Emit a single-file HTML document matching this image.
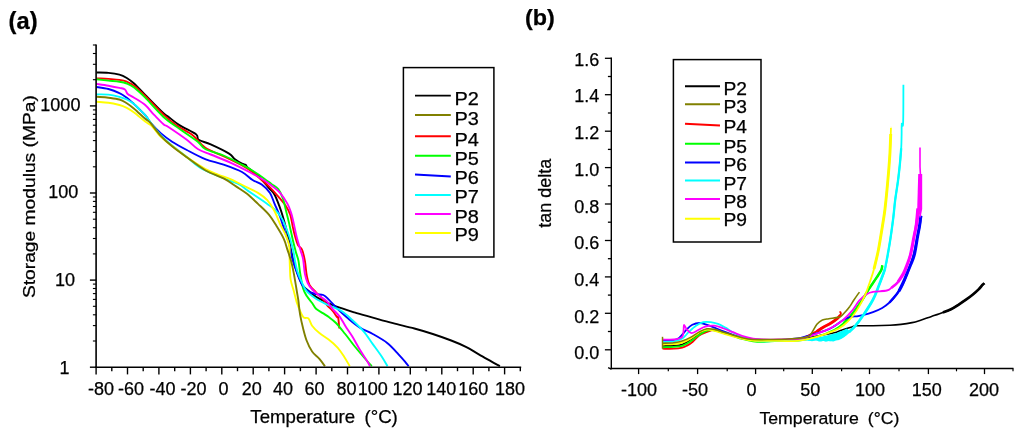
<!DOCTYPE html>
<html><head><meta charset="utf-8"><title>DMA curves</title>
<style>html,body{margin:0;padding:0;background:#fff;}body{width:1024px;height:435px;overflow:hidden;}svg{display:block;will-change:transform;}text{font-family:"Liberation Sans",sans-serif;fill:#000;stroke:#000;stroke-width:0.25px;stroke-linejoin:round;}</style>
</head><body>
<svg width="1024" height="435" viewBox="0 0 1024 435">
<rect x="0" y="0" width="1024" height="435" fill="#ffffff"/>
<text x="8.6" y="29.0" font-size="23" font-weight="bold" textLength="29" lengthAdjust="spacingAndGlyphs">(a)</text>
<text x="525.0" y="25.2" font-size="22.5" font-weight="bold" textLength="29.8" lengthAdjust="spacingAndGlyphs">(b)</text>
<g id="curvesA">
<path d="M96.5,72.5C98.5,72.6 104.6,72.5 108.4,72.9C112.2,73.3 116.3,73.9 119.4,74.7C122.5,75.5 124.3,76.5 126.8,78.0C129.2,79.5 131.0,80.7 134.1,83.5C137.2,86.3 140.3,89.9 145.2,94.9C150.1,99.9 159.6,109.7 163.5,113.3C167.4,116.9 165.8,114.8 168.4,116.8C171.1,118.8 174.8,122.2 179.4,125.1C184.0,128.0 192.8,131.9 196.0,134.3C199.2,136.8 196.2,138.1 198.7,139.8C201.1,141.5 205.6,142.1 210.7,144.4C215.8,146.7 225.1,151.2 229.1,153.6C233.1,156.0 232.4,157.4 234.6,159.1C236.8,160.8 240.2,162.8 242.0,163.7C243.8,164.6 244.7,164.1 245.6,164.7C246.5,165.3 245.8,165.8 247.5,167.4C249.2,169.0 253.4,171.7 256.0,174.0C258.6,176.3 260.8,178.6 263.0,181.0C265.2,183.4 267.6,186.3 269.5,188.6C271.4,190.9 273.0,191.8 274.6,194.7C276.2,197.5 277.8,202.0 279.2,205.7C280.6,209.4 281.8,213.1 282.9,216.8C284.0,220.5 285.0,224.1 286.0,228.0C287.0,231.9 288.2,236.3 289.0,240.0C289.8,243.7 290.2,246.5 291.0,250.0C291.8,253.5 292.5,257.3 293.5,261.0C294.5,264.7 295.6,268.1 297.0,272.0C298.4,275.9 300.6,281.6 302.2,284.5C303.8,287.4 304.5,287.4 306.8,289.5C309.1,291.6 313.0,294.9 316.0,296.9C319.0,298.9 321.7,299.9 325.0,301.5C328.3,303.1 331.1,304.6 336.0,306.4C340.9,308.2 348.3,310.5 354.4,312.4C360.5,314.3 366.4,315.8 372.8,317.6C379.2,319.4 386.1,321.4 393.0,323.2C399.9,325.0 407.8,326.7 414.4,328.5C421.0,330.3 426.7,332.0 432.8,334.0C438.9,336.0 445.7,338.4 451.2,340.5C456.7,342.6 461.3,344.6 465.9,346.9C470.5,349.2 474.5,351.9 478.8,354.3C483.1,356.8 488.1,359.6 491.6,361.6C495.1,363.6 498.5,365.4 499.9,366.2" fill="none" stroke="#000000" stroke-width="1.9" stroke-linejoin="round" stroke-linecap="butt" />
<path d="M96.5,78.4C98.5,78.5 104.6,78.7 108.4,78.9C112.2,79.2 116.3,79.4 119.4,79.9C122.5,80.4 124.3,80.7 126.8,81.7C129.2,82.7 131.0,83.3 134.1,85.7C137.2,88.1 140.3,91.1 145.2,95.9C150.1,100.7 158.3,109.7 163.5,114.6C168.7,119.5 171.5,121.8 176.4,125.3C181.3,128.8 188.2,131.7 193.0,135.4C197.8,139.1 199.8,144.0 205.0,147.5C210.2,151.0 217.7,153.4 224.0,156.5C230.3,159.6 238.2,163.3 243.0,166.0C247.8,168.7 249.9,170.2 253.0,172.5C256.1,174.8 258.7,177.4 261.7,180.0C264.7,182.6 268.1,185.5 270.9,188.3C273.7,191.1 275.8,193.7 278.3,196.6C280.8,199.5 283.7,202.6 285.7,205.7C287.7,208.8 289.1,211.2 290.3,214.9C291.5,218.6 292.2,224.4 293.0,227.8C293.8,231.2 294.0,232.3 294.8,235.2C295.6,238.1 296.8,242.5 298.0,245.0C299.2,247.5 301.1,247.3 302.2,250.0C303.3,252.7 304.1,256.7 304.9,261.0C305.7,265.3 306.0,271.7 306.8,275.7C307.6,279.7 308.0,282.1 309.5,284.9C311.0,287.7 313.7,289.9 316.0,292.3C318.3,294.8 321.5,297.5 323.3,299.6C325.1,301.8 325.5,303.4 327.0,305.2C328.5,307.0 330.8,308.7 332.5,310.7C334.2,312.7 336.2,316.0 337.1,317.1C338.1,318.2 337.8,315.6 338.2,317.5C338.6,319.4 339.1,326.7 339.3,328.5" fill="none" stroke="#ff0000" stroke-width="1.9" stroke-linejoin="round" stroke-linecap="butt" />
<path d="M96.5,79.3C98.5,79.5 104.6,80.2 108.4,80.6C112.2,81.0 116.3,81.2 119.4,81.7C122.5,82.2 124.3,82.5 126.8,83.5C129.2,84.5 131.0,85.2 134.1,87.6C137.2,90.0 140.3,92.8 145.2,97.7C150.1,102.6 157.8,111.8 163.5,117.0C169.2,122.2 173.7,124.7 179.4,128.8C185.1,132.9 193.5,138.3 197.8,141.7C202.1,145.1 200.9,146.7 205.2,149.0C209.5,151.3 217.5,152.9 223.6,155.5C229.7,158.1 237.1,162.1 242.0,164.7C246.9,167.3 249.3,168.7 253.0,171.0C256.7,173.3 260.9,176.2 264.0,178.4C267.1,180.6 269.0,182.2 271.4,184.0C273.8,185.8 276.4,186.8 278.3,189.2C280.2,191.6 281.7,195.0 282.9,198.4C284.1,201.8 284.6,205.1 285.7,209.4C286.8,213.7 288.1,218.9 289.3,224.1C290.5,229.3 291.9,236.1 293.0,240.7C294.1,245.3 294.9,248.3 295.8,251.7C296.7,255.1 297.8,257.3 298.5,261.0C299.2,264.7 299.5,269.3 300.3,273.9C301.1,278.5 302.0,284.9 303.1,288.6C304.2,292.3 305.3,293.6 306.8,296.0C308.3,298.4 310.8,301.2 312.3,303.3C313.8,305.4 314.2,307.1 316.0,308.8C317.8,310.5 321.2,312.0 323.3,313.4C325.4,314.8 326.7,315.5 328.8,317.1C330.9,318.7 333.3,320.2 336.0,323.0C338.7,325.8 342.1,330.2 345.2,334.0C348.3,337.8 351.3,342.2 354.4,346.0C357.5,349.8 360.7,353.6 363.6,357.0C366.5,360.4 370.4,364.7 371.8,366.2" fill="none" stroke="#00ff00" stroke-width="1.9" stroke-linejoin="round" stroke-linecap="butt" />
<path d="M96.5,87.0C98.5,87.3 104.6,88.0 108.4,89.0C112.2,90.0 116.3,91.6 119.4,93.1C122.5,94.5 124.3,95.9 126.8,97.7C129.2,99.5 131.0,101.2 134.1,104.1C137.2,107.0 142.2,111.8 145.2,115.2C148.1,118.6 149.2,121.2 151.8,124.2C154.4,127.2 157.6,130.5 161.0,133.4C164.4,136.3 167.8,138.9 172.1,141.7C176.4,144.5 181.3,147.1 186.8,150.0C192.3,152.9 199.1,156.7 205.2,159.1C211.3,161.5 217.5,162.5 223.6,164.7C229.7,166.8 237.2,169.4 242.0,172.0C246.8,174.6 249.3,177.9 252.6,180.0C255.9,182.1 258.8,182.4 261.7,184.6C264.6,186.8 267.9,189.7 270.0,192.9C272.1,196.1 272.9,199.9 274.6,203.9C276.3,207.9 278.4,212.1 280.1,216.8C281.8,221.5 283.5,227.4 285.0,232.0C286.5,236.6 288.3,240.8 289.3,244.4C290.3,248.0 290.6,250.8 291.2,253.6C291.8,256.4 292.1,257.9 293.0,261.0C293.9,264.1 295.2,268.0 296.7,272.0C298.2,276.0 300.2,281.7 302.2,284.9C304.2,288.1 306.3,289.9 308.6,291.4C310.9,292.9 313.6,293.5 316.0,294.1C318.4,294.7 321.2,294.1 323.3,295.0C325.4,295.9 326.4,297.2 328.8,299.6C331.2,302.0 334.8,306.2 337.8,309.2C340.8,312.2 343.3,314.4 347.0,317.5C350.7,320.6 355.6,324.9 359.9,327.6C364.2,330.4 368.2,331.4 372.8,334.0C377.4,336.6 383.2,339.8 387.5,343.2C391.8,346.6 395.6,351.2 398.5,354.3C401.4,357.4 403.3,359.6 405.0,361.6C406.7,363.6 408.0,365.4 408.6,366.2" fill="none" stroke="#0000ff" stroke-width="1.9" stroke-linejoin="round" stroke-linecap="butt" />
<path d="M96.5,94.4C98.5,94.4 104.6,94.2 108.4,94.6C112.2,95.0 116.3,96.0 119.4,96.8C122.5,97.6 124.3,98.3 126.8,99.5C129.2,100.7 132.0,102.4 134.1,104.1C136.2,105.8 137.8,107.8 139.6,109.6C141.4,111.4 142.7,112.2 145.2,115.2C147.7,118.2 151.3,123.7 154.4,127.5C157.5,131.3 160.6,135.0 163.5,138.0C166.4,141.0 168.2,142.3 172.1,145.5C176.0,148.7 182.2,153.3 186.8,157.0C191.4,160.7 194.5,164.2 199.7,167.4C204.9,170.6 212.8,173.7 218.0,176.0C223.2,178.3 227.4,179.6 231.0,181.0C234.6,182.4 237.0,183.1 239.7,184.6C242.4,186.1 243.9,187.9 247.0,190.1C250.1,192.2 254.6,195.2 258.0,197.5C261.4,199.8 264.5,201.9 267.3,203.9C270.1,205.9 272.2,207.0 274.6,209.4C277.1,211.8 279.9,214.9 282.0,218.6C284.1,222.3 286.0,227.5 287.5,231.5C289.0,235.5 290.1,238.8 291.2,242.5C292.3,246.2 293.3,250.5 293.9,253.6C294.5,256.7 294.4,257.9 295.0,261.0C295.6,264.1 296.4,268.3 297.6,272.0C298.8,275.7 300.7,279.9 302.2,283.1C303.7,286.3 304.5,288.8 306.8,291.4C309.1,294.0 312.7,296.5 316.0,298.7C319.3,300.9 322.6,302.4 326.8,304.5C331.1,306.6 337.2,308.4 341.5,311.0C345.8,313.6 348.8,316.8 352.5,320.2C356.2,323.6 360.2,327.3 363.6,331.3C367.0,335.3 369.7,339.8 372.8,344.1C375.9,348.4 379.6,353.3 382.0,357.0C384.4,360.7 386.6,364.7 387.5,366.2" fill="none" stroke="#00ffff" stroke-width="1.9" stroke-linejoin="round" stroke-linecap="butt" />
<path d="M96.5,83.9C98.5,84.2 104.6,85.0 108.4,85.7C112.2,86.4 116.7,87.3 119.4,87.9C122.2,88.5 123.5,88.4 124.9,89.4C126.3,90.4 126.2,92.6 127.7,94.0C129.2,95.4 131.2,95.9 134.1,97.7C137.0,99.5 141.8,102.1 145.2,105.0C148.6,107.9 151.3,112.0 154.4,115.2C157.5,118.4 161.2,122.3 163.5,124.3C165.8,126.3 164.5,124.4 168.4,127.0C172.3,129.6 181.9,136.1 186.8,139.8C191.7,143.5 193.8,146.6 197.8,149.0C201.8,151.4 205.2,152.2 210.7,154.5C216.2,156.8 224.5,159.9 230.9,162.8C237.3,165.7 243.8,169.1 249.3,172.0C254.8,174.9 260.2,178.0 264.0,180.3C267.8,182.6 269.3,183.9 272.0,186.0C274.7,188.1 277.5,189.9 280.1,192.9C282.7,195.9 285.6,200.5 287.5,203.9C289.4,207.3 290.1,209.7 291.2,213.1C292.3,216.5 293.0,220.1 293.9,224.1C294.8,228.1 295.6,232.7 296.7,237.0C297.8,241.3 299.3,246.2 300.4,249.9C301.5,253.6 302.4,255.2 303.1,259.2C303.9,263.2 304.1,269.9 304.9,273.9C305.7,277.9 306.5,280.5 307.7,283.1C308.9,285.7 310.3,287.4 312.3,289.5C314.3,291.6 317.2,294.0 319.7,296.0C322.1,298.0 324.9,299.4 327.0,301.5C329.1,303.6 330.4,306.3 332.5,308.8C334.6,311.3 337.6,313.8 339.7,316.6C341.8,319.4 343.1,322.3 345.2,325.7C347.3,329.1 350.1,332.8 352.5,336.8C354.9,340.8 357.6,345.9 359.9,349.7C362.2,353.5 364.6,357.1 366.3,359.8C368.0,362.6 369.4,365.1 370.0,366.2" fill="none" stroke="#ff00ff" stroke-width="1.9" stroke-linejoin="round" stroke-linecap="butt" />
<path d="M96.5,101.7C98.5,101.9 104.6,102.2 108.4,102.7C112.2,103.2 116.3,104.2 119.4,105.0C122.5,105.8 124.3,106.6 126.8,107.8C129.2,109.0 131.0,110.1 134.1,112.4C137.2,114.7 142.2,119.3 145.2,121.6C148.1,123.9 149.2,123.4 151.8,126.0C154.4,128.6 156.7,133.0 161.0,137.0C165.3,141.0 172.8,146.5 177.6,150.2C182.4,153.9 185.4,156.3 190.0,159.4C194.6,162.5 200.3,166.3 205.0,168.8C209.7,171.3 213.7,172.8 218.0,174.6C222.3,176.4 226.2,177.3 231.0,179.4C235.8,181.5 242.5,185.2 247.0,187.4C251.5,189.7 254.6,190.8 258.0,192.9C261.4,195.0 264.5,197.1 267.3,200.2C270.1,203.3 272.5,207.3 274.6,211.3C276.7,215.3 278.2,220.1 280.1,224.1C282.0,228.1 284.2,231.5 285.7,235.2C287.2,238.9 288.7,242.8 289.3,246.2C289.9,249.6 289.4,252.1 289.5,255.5C289.6,258.9 289.7,262.6 289.9,266.6C290.1,270.6 290.0,275.5 290.6,279.4C291.2,283.3 292.4,286.1 293.5,290.0C294.6,293.9 295.9,299.5 297.0,303.0C298.1,306.5 299.0,308.6 300.1,311.0C301.2,313.4 302.4,316.3 303.8,317.5C305.2,318.7 307.0,317.0 308.4,318.4C309.8,319.8 310.3,323.2 312.1,325.7C313.9,328.1 316.6,330.8 319.4,333.1C322.1,335.4 325.5,337.1 328.6,339.5C331.7,341.9 335.2,344.9 337.8,347.8C340.4,350.7 342.3,353.9 344.3,357.0C346.3,360.1 348.9,364.7 349.8,366.2" fill="none" stroke="#ffff00" stroke-width="1.9" stroke-linejoin="round" stroke-linecap="butt" />
<path d="M96.5,96.8C98.5,97.0 104.6,97.2 108.4,97.7C112.2,98.2 116.3,98.6 119.4,99.5C122.5,100.4 124.3,101.7 126.8,103.2C129.2,104.7 131.0,106.1 134.1,108.7C137.2,111.3 142.5,116.5 145.2,118.8C147.8,121.1 147.4,119.5 150.0,122.4C152.6,125.3 157.3,132.1 161.0,136.1C164.7,140.1 167.8,142.8 172.1,146.3C176.4,149.8 181.3,153.3 186.8,157.3C192.3,161.3 199.1,166.7 205.2,170.2C211.3,173.7 218.5,175.7 223.6,178.4C228.7,181.1 232.1,183.8 236.0,186.4C239.9,189.0 243.3,190.9 247.0,193.8C250.7,196.7 254.3,200.4 258.0,203.9C261.7,207.4 266.0,211.2 269.1,214.9C272.2,218.6 274.1,222.0 276.5,226.0C278.9,230.0 282.0,234.9 283.8,238.9C285.6,242.9 286.3,246.2 287.5,249.9C288.7,253.6 290.0,257.0 291.1,261.0C292.2,265.0 293.0,269.0 293.9,273.9C294.8,278.8 296.0,286.1 296.7,290.5C297.4,294.9 297.7,296.0 298.3,300.0C298.9,304.0 299.3,310.1 300.1,314.7C300.9,319.3 301.8,323.3 302.9,327.6C304.0,331.9 305.1,336.5 306.6,340.5C308.1,344.5 310.0,348.4 312.1,351.5C314.2,354.6 317.3,356.4 319.4,358.9C321.5,361.3 324.0,365.0 324.9,366.2" fill="none" stroke="#808000" stroke-width="1.9" stroke-linejoin="round" stroke-linecap="butt" />
</g>
<g id="axesA" stroke="#000" stroke-width="1.6" fill="none">
<line x1="96.1" y1="44.5" x2="96.1" y2="368.0"/>
<line x1="95.3" y1="367.2" x2="521.2" y2="367.2"/>
<line x1="96.1" y1="367.2" x2="96.1" y2="374.4" stroke-width="1.4"/>
<line x1="111.8" y1="367.2" x2="111.8" y2="371.2" stroke-width="1.4"/>
<line x1="127.5" y1="367.2" x2="127.5" y2="374.4" stroke-width="1.4"/>
<line x1="143.2" y1="367.2" x2="143.2" y2="371.2" stroke-width="1.4"/>
<line x1="158.9" y1="367.2" x2="158.9" y2="374.4" stroke-width="1.4"/>
<line x1="174.7" y1="367.2" x2="174.7" y2="371.2" stroke-width="1.4"/>
<line x1="190.4" y1="367.2" x2="190.4" y2="374.4" stroke-width="1.4"/>
<line x1="206.1" y1="367.2" x2="206.1" y2="371.2" stroke-width="1.4"/>
<line x1="221.8" y1="367.2" x2="221.8" y2="374.4" stroke-width="1.4"/>
<line x1="237.5" y1="367.2" x2="237.5" y2="371.2" stroke-width="1.4"/>
<line x1="253.2" y1="367.2" x2="253.2" y2="374.4" stroke-width="1.4"/>
<line x1="268.9" y1="367.2" x2="268.9" y2="371.2" stroke-width="1.4"/>
<line x1="284.6" y1="367.2" x2="284.6" y2="374.4" stroke-width="1.4"/>
<line x1="300.4" y1="367.2" x2="300.4" y2="371.2" stroke-width="1.4"/>
<line x1="316.1" y1="367.2" x2="316.1" y2="374.4" stroke-width="1.4"/>
<line x1="331.8" y1="367.2" x2="331.8" y2="371.2" stroke-width="1.4"/>
<line x1="347.5" y1="367.2" x2="347.5" y2="374.4" stroke-width="1.4"/>
<line x1="363.2" y1="367.2" x2="363.2" y2="371.2" stroke-width="1.4"/>
<line x1="378.9" y1="367.2" x2="378.9" y2="374.4" stroke-width="1.4"/>
<line x1="394.6" y1="367.2" x2="394.6" y2="371.2" stroke-width="1.4"/>
<line x1="410.3" y1="367.2" x2="410.3" y2="374.4" stroke-width="1.4"/>
<line x1="426.1" y1="367.2" x2="426.1" y2="371.2" stroke-width="1.4"/>
<line x1="441.8" y1="367.2" x2="441.8" y2="374.4" stroke-width="1.4"/>
<line x1="457.5" y1="367.2" x2="457.5" y2="371.2" stroke-width="1.4"/>
<line x1="473.2" y1="367.2" x2="473.2" y2="374.4" stroke-width="1.4"/>
<line x1="488.9" y1="367.2" x2="488.9" y2="371.2" stroke-width="1.4"/>
<line x1="504.6" y1="367.2" x2="504.6" y2="374.4" stroke-width="1.4"/>
<line x1="520.3" y1="367.2" x2="520.3" y2="371.2" stroke-width="1.4"/>
<line x1="89.89999999999999" y1="367.2" x2="96.1" y2="367.2" stroke-width="1.4"/>
<line x1="92.89999999999999" y1="341.0" x2="96.1" y2="341.0" stroke-width="1.1"/>
<line x1="92.89999999999999" y1="325.6" x2="96.1" y2="325.6" stroke-width="1.1"/>
<line x1="92.89999999999999" y1="314.8" x2="96.1" y2="314.8" stroke-width="1.1"/>
<line x1="92.89999999999999" y1="306.3" x2="96.1" y2="306.3" stroke-width="1.1"/>
<line x1="92.89999999999999" y1="299.4" x2="96.1" y2="299.4" stroke-width="1.1"/>
<line x1="92.89999999999999" y1="293.6" x2="96.1" y2="293.6" stroke-width="1.1"/>
<line x1="92.89999999999999" y1="288.5" x2="96.1" y2="288.5" stroke-width="1.1"/>
<line x1="92.89999999999999" y1="284.1" x2="96.1" y2="284.1" stroke-width="1.1"/>
<line x1="89.89999999999999" y1="280.1" x2="96.1" y2="280.1" stroke-width="1.4"/>
<line x1="92.89999999999999" y1="253.9" x2="96.1" y2="253.9" stroke-width="1.1"/>
<line x1="92.89999999999999" y1="238.5" x2="96.1" y2="238.5" stroke-width="1.1"/>
<line x1="92.89999999999999" y1="227.7" x2="96.1" y2="227.7" stroke-width="1.1"/>
<line x1="92.89999999999999" y1="219.2" x2="96.1" y2="219.2" stroke-width="1.1"/>
<line x1="92.89999999999999" y1="212.3" x2="96.1" y2="212.3" stroke-width="1.1"/>
<line x1="92.89999999999999" y1="206.5" x2="96.1" y2="206.5" stroke-width="1.1"/>
<line x1="92.89999999999999" y1="201.4" x2="96.1" y2="201.4" stroke-width="1.1"/>
<line x1="92.89999999999999" y1="197.0" x2="96.1" y2="197.0" stroke-width="1.1"/>
<line x1="89.89999999999999" y1="193.0" x2="96.1" y2="193.0" stroke-width="1.4"/>
<line x1="92.89999999999999" y1="166.8" x2="96.1" y2="166.8" stroke-width="1.1"/>
<line x1="92.89999999999999" y1="151.4" x2="96.1" y2="151.4" stroke-width="1.1"/>
<line x1="92.89999999999999" y1="140.6" x2="96.1" y2="140.6" stroke-width="1.1"/>
<line x1="92.89999999999999" y1="132.1" x2="96.1" y2="132.1" stroke-width="1.1"/>
<line x1="92.89999999999999" y1="125.2" x2="96.1" y2="125.2" stroke-width="1.1"/>
<line x1="92.89999999999999" y1="119.4" x2="96.1" y2="119.4" stroke-width="1.1"/>
<line x1="92.89999999999999" y1="114.3" x2="96.1" y2="114.3" stroke-width="1.1"/>
<line x1="92.89999999999999" y1="109.9" x2="96.1" y2="109.9" stroke-width="1.1"/>
<line x1="89.89999999999999" y1="105.9" x2="96.1" y2="105.9" stroke-width="1.4"/>
<line x1="92.89999999999999" y1="79.7" x2="96.1" y2="79.7" stroke-width="1.1"/>
<line x1="92.89999999999999" y1="64.3" x2="96.1" y2="64.3" stroke-width="1.1"/>
<line x1="92.89999999999999" y1="53.5" x2="96.1" y2="53.5" stroke-width="1.1"/>
<line x1="92.89999999999999" y1="45.0" x2="96.1" y2="45.0" stroke-width="1.1"/>
</g>
<g id="labelsA" font-size="18">
<text x="101" y="395.4" text-anchor="middle">-80</text>
<text x="131.1" y="395.4" text-anchor="middle">-60</text>
<text x="162.5" y="395.4" text-anchor="middle">-40</text>
<text x="193.5" y="395.4" text-anchor="middle">-20</text>
<text x="223.4" y="395.4" text-anchor="middle">0</text>
<text x="251.7" y="395.4" text-anchor="middle">20</text>
<text x="283" y="395.4" text-anchor="middle">40</text>
<text x="314.6" y="395.4" text-anchor="middle">60</text>
<text x="346.6" y="395.4" text-anchor="middle">80</text>
<text x="372.7" y="395.4" text-anchor="middle">100</text>
<text x="407.6" y="395.4" text-anchor="middle">120</text>
<text x="441.2" y="395.4" text-anchor="middle">140</text>
<text x="473.2" y="395.4" text-anchor="middle">160</text>
<text x="510" y="395.4" text-anchor="middle">180</text>
<text x="80.39999999999999" y="110.7" text-anchor="end">1000</text>
<text x="78.2" y="198.1" text-anchor="end">100</text>
<text x="75.1" y="285.6" text-anchor="end">10</text>
<text x="69.39999999999999" y="373.6" text-anchor="end">1</text>
<text x="324.1" y="423.2" text-anchor="middle" font-size="18.2" word-spacing="4" textLength="147.5" lengthAdjust="spacingAndGlyphs">Temperature (°C)</text>
<text transform="translate(35.3,196.6) rotate(-90)" text-anchor="middle" font-size="17" textLength="203" lengthAdjust="spacingAndGlyphs">Storage modulus (MPa)</text>
</g>
<g id="legendA">
<rect x="403.4" y="67.6" width="90.5" height="189.4" fill="#fff" stroke="#000" stroke-width="1.5"/>
<line x1="415" y1="95.6" x2="450.8" y2="95.6" stroke="#000000" stroke-width="1.9"/>
<text x="454.4" y="105.0" font-size="18" textLength="24.4" lengthAdjust="spacingAndGlyphs">P2</text>
<line x1="415" y1="115" x2="450.8" y2="115" stroke="#808000" stroke-width="1.9"/>
<text x="454.4" y="124.8" font-size="18" textLength="24.4" lengthAdjust="spacingAndGlyphs">P3</text>
<line x1="415" y1="136.2" x2="450.8" y2="136.2" stroke="#ff0000" stroke-width="1.9"/>
<text x="454.4" y="145.5" font-size="18" textLength="24.4" lengthAdjust="spacingAndGlyphs">P4</text>
<line x1="415" y1="155.8" x2="450.8" y2="155.8" stroke="#00ff00" stroke-width="1.9"/>
<text x="454.4" y="165" font-size="18" textLength="24.4" lengthAdjust="spacingAndGlyphs">P5</text>
<line x1="415" y1="174.5" x2="450.8" y2="176.5" stroke="#0000ff" stroke-width="1.9"/>
<text x="454.4" y="183.9" font-size="18" textLength="24.4" lengthAdjust="spacingAndGlyphs">P6</text>
<line x1="415" y1="195" x2="450.8" y2="195" stroke="#00ffff" stroke-width="1.9"/>
<text x="454.4" y="203" font-size="18" textLength="24.4" lengthAdjust="spacingAndGlyphs">P7</text>
<line x1="415" y1="214" x2="450.8" y2="214" stroke="#ff00ff" stroke-width="1.9"/>
<text x="454.4" y="222.5" font-size="18" textLength="24.4" lengthAdjust="spacingAndGlyphs">P8</text>
<line x1="415" y1="233" x2="450.8" y2="233" stroke="#ffff00" stroke-width="1.9"/>
<text x="454.4" y="240.8" font-size="18" textLength="24.4" lengthAdjust="spacingAndGlyphs">P9</text>
</g>
<g id="curvesB">
<path d="M662.5,346.0C664.4,345.9 670.6,345.9 673.9,345.6C677.2,345.3 679.4,345.4 682.2,344.4C685.0,343.4 687.6,341.5 690.5,339.6C693.4,337.7 697.0,334.8 699.7,333.2C702.5,331.6 704.5,330.5 707.0,330.0C709.5,329.5 711.6,329.8 714.4,330.3C717.2,330.8 720.5,332.1 723.6,333.0C726.7,333.9 729.7,334.7 732.8,335.6C735.9,336.5 738.6,337.5 742.0,338.2C745.4,338.9 748.3,339.6 753.0,340.0C757.7,340.4 762.6,340.4 770.0,340.3C777.4,340.2 789.9,340.3 797.6,339.6C805.3,338.9 809.9,337.4 816.0,336.2C822.1,335.0 830.6,333.5 834.4,332.7C838.2,331.9 837.0,331.9 838.8,331.3C840.6,330.7 843.0,329.7 845.2,329.0C847.4,328.3 850.2,327.5 852.0,327.0C853.8,326.5 852.7,326.0 856.2,325.8C859.7,325.6 867.4,325.8 873.0,325.7C878.6,325.6 885.3,325.4 890.0,325.2C894.7,325.0 897.3,324.8 901.0,324.4C904.7,324.0 908.9,323.3 912.1,322.6C915.3,321.9 916.8,321.4 920.0,320.4C923.2,319.4 927.7,317.7 931.5,316.4C935.3,315.1 939.8,313.6 943.0,312.4C946.2,311.2 948.3,310.5 951.0,309.2C953.7,307.9 956.6,305.9 959.1,304.3C961.6,302.7 963.7,301.3 966.0,299.7C968.3,298.1 970.8,296.2 972.9,294.5C975.0,292.8 977.0,291.0 978.6,289.4C980.2,287.8 981.6,285.8 982.6,284.8C983.6,283.8 984.1,283.5 984.4,283.2" fill="none" stroke="#000000" stroke-width="1.6" stroke-linejoin="round" stroke-linecap="butt" />
<path d="M662.5,348.7C664.4,348.7 670.6,348.9 673.9,348.7C677.2,348.5 680.0,348.1 682.2,347.6C684.4,347.1 685.2,346.6 687.0,345.6C688.8,344.6 690.8,343.4 692.8,341.7C694.8,340.0 697.1,336.9 699.2,335.4C701.4,333.8 703.9,333.1 705.7,332.4C707.5,331.7 708.5,331.4 710.0,331.0C711.5,330.6 712.1,329.7 714.4,330.0C716.7,330.3 720.5,331.9 723.6,332.8C726.7,333.7 729.7,334.6 732.8,335.5C735.9,336.4 738.6,337.6 742.0,338.4C745.4,339.2 748.3,340.1 753.0,340.5C757.7,340.9 762.6,340.7 770.0,340.6C777.4,340.5 791.5,340.5 797.6,339.8C803.7,339.1 803.7,337.6 806.8,336.2C809.9,334.8 813.2,333.1 816.0,331.6C818.8,330.1 820.8,328.4 823.3,327.0C825.8,325.6 828.4,324.7 830.7,323.3C833.0,321.9 835.4,320.2 837.1,318.7C838.8,317.2 840.3,315.3 840.8,314.1C841.3,312.9 840.0,311.8 839.9,311.4" fill="none" stroke="#ff0000" stroke-width="1.8" stroke-linejoin="round" stroke-linecap="butt" />
<path d="M817.0,331.4C818.0,330.7 821.0,328.5 823.3,327.2C825.6,325.9 828.4,324.7 830.7,323.3C833.0,321.9 835.5,320.1 837.1,318.7C838.7,317.3 839.9,315.8 840.4,315.2" fill="none" stroke="#ff0000" stroke-width="3.0" stroke-linejoin="round" stroke-linecap="butt" />
<path d="M662.5,347.3C664.4,347.2 670.6,347.1 673.9,346.9C677.2,346.6 679.4,346.7 682.2,345.8C685.0,344.9 687.6,343.5 690.5,341.6C693.4,339.7 697.0,336.4 699.7,334.6C702.5,332.8 704.5,331.3 707.0,330.6C709.5,329.9 711.6,329.9 714.4,330.3C717.2,330.7 720.5,332.2 723.6,333.1C726.7,334.0 729.7,334.8 732.8,335.8C735.9,336.8 738.6,338.1 742.0,339.0C745.4,339.9 749.3,340.9 753.0,341.4C756.7,341.9 759.8,342.0 764.0,341.9C768.2,341.8 772.4,341.0 778.0,340.8C783.6,340.6 791.3,341.2 797.6,340.6C803.9,340.0 809.9,338.9 816.0,337.1C822.1,335.3 829.8,332.1 834.4,329.8C839.0,327.5 840.5,326.1 843.6,323.3C846.7,320.5 849.7,317.0 852.8,313.2C855.9,309.4 859.2,304.4 862.0,300.3C864.8,296.2 866.8,292.2 869.3,288.4C871.8,284.6 874.7,280.5 876.7,277.4C878.7,274.3 880.4,272.0 881.3,270.0C882.2,268.0 882.1,266.2 882.3,265.4" fill="none" stroke="#00ff00" stroke-width="1.8" stroke-linejoin="round" stroke-linecap="butt" />
<path d="M843.6,323.3C845.1,321.6 849.7,317.0 852.8,313.2C855.9,309.4 859.2,304.4 862.0,300.3C864.8,296.2 866.8,292.2 869.3,288.4C871.8,284.6 874.7,280.5 876.7,277.4C878.7,274.3 880.4,272.0 881.3,270.0C882.2,268.0 882.1,266.2 882.3,265.4" fill="none" stroke="#00ff00" stroke-width="2.5" stroke-linejoin="round" stroke-linecap="butt" />
<path d="M662.5,340.8C664.4,340.7 671.1,340.6 673.9,340.1C676.7,339.6 677.2,339.5 679.4,337.7C681.5,335.9 684.6,331.5 686.8,329.4C688.9,327.2 690.1,325.9 692.3,324.8C694.4,323.7 697.2,323.0 699.7,323.0C702.2,323.0 704.5,324.0 707.0,324.8C709.5,325.6 711.6,326.5 714.4,327.6C717.2,328.7 720.5,330.1 723.6,331.3C726.7,332.5 729.7,333.8 732.8,334.9C735.9,336.0 738.6,336.9 742.0,337.7C745.4,338.5 747.0,339.1 753.0,339.5C759.0,339.9 770.6,340.3 778.0,340.1C785.4,339.9 792.8,339.1 797.6,338.5C802.4,337.9 802.2,337.5 806.8,336.2C811.4,334.9 820.6,332.4 825.2,330.7C829.8,329.0 831.3,327.9 834.4,326.1C837.5,324.3 840.9,321.2 843.6,319.7C846.4,318.2 848.7,317.5 850.9,316.9C853.1,316.3 854.9,316.6 857.0,316.3C859.1,316.0 861.1,315.6 863.8,314.9C866.5,314.2 869.9,313.2 873.0,312.1C876.1,311.0 879.5,309.6 882.2,308.0C885.0,306.4 887.2,304.6 889.5,302.5C891.8,300.4 893.9,298.0 896.0,295.1C898.1,292.2 900.6,288.3 902.4,285.0C904.2,281.7 905.5,278.2 906.6,275.5C907.7,272.8 907.8,272.5 909.0,269.0C910.2,265.5 912.2,259.6 913.6,254.4C915.0,249.2 916.1,242.7 917.2,237.8C918.3,232.9 919.4,228.3 920.0,224.9C920.6,221.5 920.8,218.8 920.9,217.6" fill="none" stroke="#0000ff" stroke-width="1.8" stroke-linejoin="round" stroke-linecap="butt" />
<path d="M662.5,341.9C664.4,341.8 670.6,341.9 673.9,341.4C677.2,340.8 679.8,340.1 682.2,338.6C684.7,337.1 686.3,334.4 688.6,332.2C690.9,330.0 693.5,327.4 696.0,325.7C698.5,324.0 700.8,322.7 703.3,322.1C705.8,321.5 708.2,321.8 710.7,322.1C713.2,322.4 715.5,323.0 718.0,323.9C720.5,324.8 722.9,326.2 725.4,327.6C727.9,329.0 730.0,330.7 732.8,332.2C735.6,333.7 738.6,335.5 742.0,336.8C745.4,338.1 749.3,339.3 753.0,340.1C756.7,340.9 759.8,341.3 764.0,341.4C768.2,341.5 772.4,340.9 778.0,340.8C783.6,340.7 792.8,340.8 797.6,340.6C802.4,340.4 804.4,339.6 806.8,339.5C809.2,339.4 810.5,340.4 812.0,340.3C813.5,340.2 814.7,339.1 816.0,339.2C817.3,339.2 818.5,340.6 820.0,340.6C821.5,340.7 823.5,339.5 825.2,339.5C826.9,339.5 828.5,340.6 830.0,340.4C831.5,340.2 833.1,338.7 834.4,338.5C835.7,338.3 836.5,339.7 838.0,339.4C839.5,339.1 841.8,337.7 843.6,336.5C845.4,335.3 847.0,334.0 848.9,332.2C850.8,330.4 852.8,328.7 855.3,325.8C857.8,322.9 860.7,319.0 863.6,314.7C866.5,310.4 870.3,304.7 872.8,300.0C875.3,295.3 876.5,291.8 878.5,286.6C880.5,281.4 883.1,276.2 885.0,269.0C886.9,261.8 888.3,251.9 889.7,243.3C891.1,234.7 892.4,224.8 893.3,217.6C894.2,210.4 894.4,205.9 895.2,199.9C896.0,193.9 897.1,187.3 897.9,181.5C898.7,175.7 899.2,170.5 899.8,165.0C900.3,159.5 900.9,153.4 901.2,148.4C901.5,143.4 901.5,139.1 901.6,135.0C901.7,130.9 901.5,126.0 901.8,124.0C902.0,122.0 902.8,129.8 903.1,123.3C903.4,116.8 903.4,91.1 903.4,84.7" fill="none" stroke="#00ffff" stroke-width="1.8" stroke-linejoin="round" stroke-linecap="butt" />
<polygon points="806,339.6 812,338.6 817.5,337.4 826.9,335.4 836.3,333 842,330.8 847,328.6 850,331.4 846,335.5 841,338.6 836,340.6 833.4,341.6 829,341 825.9,341.8 822,340.6 817.5,340.6 812,340.8 808.1,340.4" fill="#00ffff"/>
<path d="M848.9,332.2C850.0,331.1 852.8,328.7 855.3,325.8C857.8,322.9 860.7,319.0 863.6,314.7C866.5,310.4 870.3,304.7 872.8,300.0C875.3,295.3 876.5,291.8 878.5,286.6C880.5,281.4 883.9,271.9 885.0,269.0" fill="none" stroke="#00ffff" stroke-width="2.7" stroke-linejoin="round" stroke-linecap="butt" />
<path d="M662.5,339.5C664.4,339.5 670.6,339.9 673.9,339.5C677.2,339.1 680.6,338.4 682.2,336.8C683.8,335.2 683.3,332.0 683.6,330.0C683.9,328.0 683.5,324.9 684.0,324.8C684.5,324.7 685.6,328.0 686.8,329.4C688.0,330.8 689.6,333.0 691.4,333.1C693.2,333.2 695.5,331.4 697.8,330.3C700.1,329.2 702.4,327.5 705.2,326.7C708.0,325.9 711.3,325.4 714.4,325.7C717.5,326.0 720.5,327.4 723.6,328.5C726.7,329.6 729.7,331.0 732.8,332.2C735.9,333.4 738.6,334.8 742.0,335.9C745.4,337.0 749.3,338.0 753.0,338.6C756.7,339.2 759.8,339.4 764.0,339.5C768.2,339.6 772.4,339.6 778.0,339.5C783.6,339.4 792.8,339.4 797.6,339.0C802.4,338.6 802.2,338.5 806.8,337.1C811.4,335.7 820.6,332.5 825.2,330.7C829.8,328.9 831.3,328.0 834.4,326.1C837.5,324.2 840.5,322.2 843.6,319.5C846.7,316.8 850.2,312.9 852.8,309.8C855.4,306.7 856.9,303.2 859.2,300.6C861.5,298.0 864.3,295.6 866.6,294.2C868.9,292.8 869.6,292.5 873.0,291.9C876.4,291.3 883.7,291.2 886.8,290.5C889.9,289.8 889.6,289.1 891.4,287.8C893.2,286.5 895.5,284.9 897.4,282.9C899.3,280.8 901.5,277.6 902.9,275.5C904.3,273.4 904.1,274.4 905.6,270.0C907.1,265.6 910.1,256.1 911.7,248.9C913.3,241.7 914.5,233.6 915.4,226.8C916.3,220.1 916.9,211.5 917.2,208.4" fill="none" stroke="#ff00ff" stroke-width="1.8" stroke-linejoin="round" stroke-linecap="butt" />
<path d="M662.5,344.5C664.4,344.4 670.6,344.4 673.9,344.1C677.2,343.8 679.4,343.5 682.2,342.6C685.0,341.7 687.6,340.3 690.5,338.6C693.4,336.9 697.0,333.7 699.7,332.2C702.5,330.7 704.5,329.8 707.0,329.6C709.5,329.4 711.6,330.2 714.4,330.9C717.2,331.6 720.5,332.8 723.6,333.7C726.7,334.6 729.7,335.6 732.8,336.4C735.9,337.2 738.6,337.9 742.0,338.6C745.4,339.3 748.3,340.1 753.0,340.5C757.7,340.9 762.6,340.8 770.0,340.8C777.4,340.9 789.9,341.4 797.6,340.8C805.3,340.2 809.9,338.8 816.0,337.1C822.1,335.4 829.8,332.7 834.4,330.7C839.0,328.7 840.5,327.6 843.6,325.2C846.7,322.8 850.0,319.4 852.8,316.0C855.5,312.6 858.0,308.6 860.1,304.9C862.2,301.2 863.9,297.9 865.6,293.9C867.3,289.9 868.8,285.1 870.2,281.0C871.6,276.9 872.6,274.4 874.0,269.0C875.4,263.6 877.1,256.9 878.6,248.9C880.1,241.0 882.1,228.0 883.2,221.3C884.3,214.7 884.4,214.1 885.0,209.0C885.6,203.9 886.3,197.1 886.9,190.7C887.5,184.3 888.2,176.9 888.7,170.5C889.2,164.1 889.6,158.8 890.0,152.0C890.4,145.2 890.8,134.0 890.9,130.0C891.0,126.0 890.9,128.2 890.9,127.9" fill="none" stroke="#ffff00" stroke-width="1.8" stroke-linejoin="round" stroke-linecap="butt" />
<path d="M662.5,343.2C664.4,343.1 670.6,343.1 673.9,342.7C677.2,342.3 679.4,341.9 682.2,341.0C685.0,340.1 687.6,339.0 690.5,337.4C693.4,335.8 697.0,333.0 699.7,331.6C702.5,330.2 704.5,329.2 707.0,328.8C709.5,328.4 711.6,328.8 714.4,329.4C717.2,330.0 720.5,331.3 723.6,332.2C726.7,333.1 729.7,334.0 732.8,334.9C735.9,335.8 738.6,336.9 742.0,337.7C745.4,338.5 748.3,339.2 753.0,339.5C757.7,339.8 764.1,339.6 770.0,339.5C775.9,339.4 782.3,339.4 788.4,339.0C794.5,338.6 803.0,338.0 806.8,337.1C810.6,336.2 809.7,335.5 811.4,333.4C813.1,331.3 815.1,326.5 816.9,324.3C818.7,322.1 820.4,320.9 822.4,320.0C824.4,319.1 826.5,319.1 828.8,318.7C831.1,318.3 834.2,318.0 836.2,317.6C838.2,317.2 839.1,317.5 840.6,316.6C842.1,315.7 843.7,313.7 845.2,312.0C846.7,310.3 848.3,308.4 849.8,306.4C851.2,304.4 852.3,302.4 853.9,300.0C855.5,297.6 858.5,293.4 859.4,292.1" fill="none" stroke="#808000" stroke-width="1.6" stroke-linejoin="round" stroke-linecap="butt" />
<path d="M943.0,312.4C944.3,311.9 948.3,310.5 951.0,309.2C953.7,307.9 956.6,305.9 959.1,304.3C961.6,302.7 963.7,301.3 966.0,299.7C968.3,298.1 970.8,296.2 972.9,294.5C975.0,292.8 977.0,291.0 978.6,289.4C980.2,287.8 981.6,285.8 982.6,284.8C983.6,283.8 984.1,283.5 984.4,283.2" fill="none" stroke="#000000" stroke-width="2.7" stroke-linejoin="round" stroke-linecap="butt" />
<path d="M874.0,269.0C874.8,265.6 877.1,256.9 878.6,248.9C880.1,241.0 882.1,228.0 883.2,221.3C884.3,214.7 884.4,214.1 885.0,209.0C885.6,203.9 886.3,197.1 886.9,190.7C887.5,184.3 888.2,176.9 888.7,170.5C889.2,164.1 889.7,158.1 890.0,152.0C890.3,145.9 890.6,137.0 890.7,134.0" fill="none" stroke="#ffff00" stroke-width="2.9" stroke-linejoin="round" stroke-linecap="butt" />
<path d="M885.0,269.0C885.8,264.7 888.3,251.9 889.7,243.3C891.1,234.7 892.4,224.8 893.3,217.6C894.2,210.4 894.4,205.9 895.2,199.9C896.0,193.9 897.1,187.3 897.9,181.5C898.7,175.7 899.2,170.5 899.8,165.0C900.3,159.5 901.0,151.2 901.2,148.4" fill="none" stroke="#00ffff" stroke-width="2.3" stroke-linejoin="round" stroke-linecap="butt" />
<path d="M889.5,302.5C890.6,301.3 894.3,297.2 896.0,295.1C897.7,293.0 898.9,290.9 899.5,290.0" fill="none" stroke="#0000ff" stroke-width="2.4" stroke-linejoin="round" stroke-linecap="butt" />
<path d="M899.0,291.0C899.7,289.7 901.7,285.9 903.0,283.0C904.3,280.1 905.8,276.6 907.0,273.6C908.2,270.6 909.3,268.1 910.5,265.0C911.7,261.9 913.0,259.9 914.2,255.2C915.4,250.5 916.6,241.7 917.5,236.8C918.4,231.9 919.0,229.1 919.5,226.0C920.0,222.9 920.2,220.1 920.5,218.4C920.8,216.7 920.9,216.1 921.0,215.6" fill="none" stroke="#0000ff" stroke-width="3.1" stroke-linejoin="round" stroke-linecap="butt" />
<path d="M891.4,287.8C892.0,287.3 893.9,286.0 895.0,285.0C896.1,284.0 897.5,282.5 898.0,282.0" fill="none" stroke="#ff00ff" stroke-width="2.4" stroke-linejoin="round" stroke-linecap="butt" />
<path d="M898.0,282.0C898.9,280.6 901.9,276.4 903.4,273.6C904.9,270.8 905.8,268.1 907.0,265.0C908.2,261.9 909.2,259.9 910.4,255.2C911.6,250.5 913.0,241.8 914.0,236.8C915.0,231.8 915.9,228.1 916.5,225.0C917.1,221.9 917.2,221.1 917.5,218.4C917.8,215.7 918.3,210.6 918.5,209.0" fill="none" stroke="#ff00ff" stroke-width="3.1" stroke-linejoin="round" stroke-linecap="butt" />
<polyline points="920,147.5 920,166.8 920.4,174" fill="none" stroke="#ff00ff" stroke-width="1.6"/>
<polygon points="918.2,174.1 922.2,174.1 922.2,209 920.5,218 917.2,209" fill="#ff00ff"/>
<line x1="662.5" y1="336.8" x2="662.5" y2="348.7" stroke="#808000" stroke-width="1.5"/>
</g>
<g id="axesB" stroke="#000" stroke-width="1.4" fill="none">
<line x1="611.3" y1="57.6" x2="611.3" y2="369.3"/>
<line x1="610.5" y1="368.5" x2="1013.5" y2="368.5"/>
<line x1="638.6" y1="368.5" x2="638.6" y2="374.1" stroke-width="1.3"/>
<line x1="697.6" y1="368.5" x2="697.6" y2="374.1" stroke-width="1.3"/>
<line x1="755.6" y1="368.5" x2="755.6" y2="374.1" stroke-width="1.3"/>
<line x1="812.3" y1="368.5" x2="812.3" y2="374.1" stroke-width="1.3"/>
<line x1="869.5" y1="368.5" x2="869.5" y2="374.1" stroke-width="1.3"/>
<line x1="928.4" y1="368.5" x2="928.4" y2="374.1" stroke-width="1.3"/>
<line x1="984.5" y1="368.5" x2="984.5" y2="374.1" stroke-width="1.3"/>
<line x1="668.3" y1="368.5" x2="668.3" y2="371.3" stroke-width="1.2"/>
<line x1="727.2" y1="368.5" x2="727.2" y2="371.3" stroke-width="1.2"/>
<line x1="783.7" y1="368.5" x2="783.7" y2="371.3" stroke-width="1.2"/>
<line x1="841.6" y1="368.5" x2="841.6" y2="371.3" stroke-width="1.2"/>
<line x1="899.0" y1="368.5" x2="899.0" y2="371.3" stroke-width="1.2"/>
<line x1="956.5" y1="368.5" x2="956.5" y2="371.3" stroke-width="1.2"/>
<line x1="1013.0" y1="368.5" x2="1013.0" y2="371.3" stroke-width="1.2"/>
<line x1="608.0999999999999" y1="367.6" x2="611.3" y2="369.1" stroke-width="1.2"/>
<line x1="604.9" y1="349.8" x2="611.3" y2="349.8" stroke-width="1.3"/>
<line x1="607.9" y1="331.5" x2="611.3" y2="331.5" stroke-width="1.3"/>
<line x1="604.9" y1="313.3" x2="611.3" y2="313.3" stroke-width="1.3"/>
<line x1="607.9" y1="295.1" x2="611.3" y2="295.1" stroke-width="1.3"/>
<line x1="604.9" y1="276.9" x2="611.3" y2="276.9" stroke-width="1.3"/>
<line x1="607.9" y1="258.7" x2="611.3" y2="258.7" stroke-width="1.3"/>
<line x1="604.9" y1="240.5" x2="611.3" y2="240.5" stroke-width="1.3"/>
<line x1="607.9" y1="222.2" x2="611.3" y2="222.2" stroke-width="1.3"/>
<line x1="604.9" y1="204.0" x2="611.3" y2="204.0" stroke-width="1.3"/>
<line x1="607.9" y1="185.8" x2="611.3" y2="185.8" stroke-width="1.3"/>
<line x1="604.9" y1="167.6" x2="611.3" y2="167.6" stroke-width="1.3"/>
<line x1="607.9" y1="149.4" x2="611.3" y2="149.4" stroke-width="1.3"/>
<line x1="604.9" y1="131.2" x2="611.3" y2="131.2" stroke-width="1.3"/>
<line x1="607.9" y1="113.0" x2="611.3" y2="113.0" stroke-width="1.3"/>
<line x1="604.9" y1="94.7" x2="611.3" y2="94.7" stroke-width="1.3"/>
<line x1="607.9" y1="76.5" x2="611.3" y2="76.5" stroke-width="1.3"/>
<line x1="604.9" y1="58.3" x2="611.3" y2="58.3" stroke-width="1.3"/>
</g>
<g id="labelsB" font-size="18">
<text x="639" y="395.6" text-anchor="middle">-100</text>
<text x="695" y="395.6" text-anchor="middle">-50</text>
<text x="751.5" y="395.6" text-anchor="middle">0</text>
<text x="810.3" y="395.6" text-anchor="middle">50</text>
<text x="870" y="395.6" text-anchor="middle">100</text>
<text x="926.7" y="395.6" text-anchor="middle">150</text>
<text x="984.1" y="395.6" text-anchor="middle">200</text>
<text x="599.4" y="65.7" text-anchor="end">1.6</text>
<text x="599.4" y="102.4" text-anchor="end">1.4</text>
<text x="599.4" y="139.1" text-anchor="end">1.2</text>
<text x="599.4" y="175.8" text-anchor="end">1.0</text>
<text x="599.4" y="212.5" text-anchor="end">0.8</text>
<text x="599.4" y="249.1" text-anchor="end">0.6</text>
<text x="599.4" y="285.8" text-anchor="end">0.4</text>
<text x="599.4" y="322.5" text-anchor="end">0.2</text>
<text x="599.4" y="359.2" text-anchor="end">0.0</text>
<text x="829.4" y="424" text-anchor="middle" font-size="17.4" word-spacing="4" textLength="140" lengthAdjust="spacingAndGlyphs">Temperature (°C)</text>
<text transform="translate(551.0,193.2) rotate(-90)" text-anchor="middle" font-size="18">tan delta</text>
</g>
<g id="legendB">
<rect x="673.4" y="59.6" width="87.6" height="182.4" fill="#fff" stroke="#000" stroke-width="1.5"/>
<line x1="685" y1="86.3" x2="720" y2="86.3" stroke="#000000" stroke-width="1.9"/>
<text x="723.5" y="94.5" font-size="17.6" textLength="23.5" lengthAdjust="spacingAndGlyphs">P2</text>
<line x1="685" y1="104.3" x2="720" y2="104.3" stroke="#808000" stroke-width="1.9"/>
<text x="723.5" y="113.3" font-size="17.6" textLength="23.5" lengthAdjust="spacingAndGlyphs">P3</text>
<line x1="685" y1="123.69999999999999" x2="720" y2="125.5" stroke="#ff0000" stroke-width="1.9"/>
<text x="723.5" y="133.3" font-size="17.6" textLength="23.5" lengthAdjust="spacingAndGlyphs">P4</text>
<line x1="685" y1="143.8" x2="720" y2="143.8" stroke="#00ff00" stroke-width="1.9"/>
<text x="723.5" y="152.5" font-size="17.6" textLength="23.5" lengthAdjust="spacingAndGlyphs">P5</text>
<line x1="685" y1="162.5" x2="720" y2="162.5" stroke="#0000ff" stroke-width="1.9"/>
<text x="723.5" y="171.3" font-size="17.6" textLength="23.5" lengthAdjust="spacingAndGlyphs">P6</text>
<line x1="685" y1="180.5" x2="720" y2="180.5" stroke="#00ffff" stroke-width="1.9"/>
<text x="723.5" y="190" font-size="17.6" textLength="23.5" lengthAdjust="spacingAndGlyphs">P7</text>
<line x1="685" y1="199" x2="720" y2="199" stroke="#ff00ff" stroke-width="1.9"/>
<text x="723.5" y="208" font-size="17.6" textLength="23.5" lengthAdjust="spacingAndGlyphs">P8</text>
<line x1="685" y1="218.8" x2="720" y2="218.8" stroke="#ffff00" stroke-width="1.9"/>
<text x="723.5" y="225.8" font-size="17.6" textLength="23.5" lengthAdjust="spacingAndGlyphs">P9</text>
</g>
</svg>
</body></html>
